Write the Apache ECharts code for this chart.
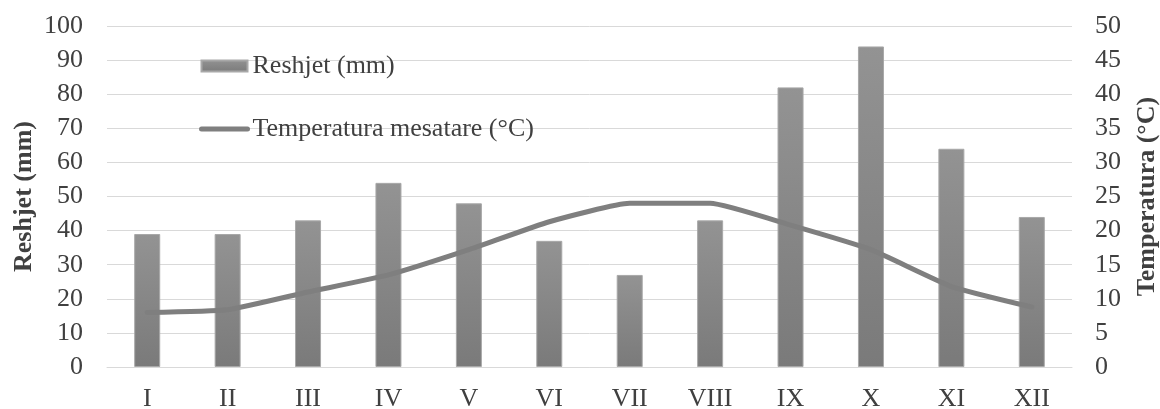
<!DOCTYPE html>
<html><head><meta charset="utf-8">
<script src="https://cdn.jsdelivr.net/npm/echarts@6/dist/echarts.min.js"></script>
<style>html,body{margin:0;padding:0;background:#fff}#c{width:1160px;height:409px}</style>
</head><body><div id="c"></div>
<script>
const months = ['I','II','III','IV','V','VI','VII','VIII','IX','X','XI','XII'];
const precipitation = [39, 39, 43, 54, 48, 37, 27, 43, 82, 94, 64, 44];
const temperature = [8.0, 8.4, 11.0, 13.5, 17.2, 21.3, 24.0, 24.0, 20.8, 17.2, 11.8, 8.8];
const precipName = 'Reshjet (mm)';
const tempName = 'Temperatura mesatare (°C)';

const font = 'Liberation Serif';
const txt = '#404040';
const fs = 26;
const chart = echarts.init(document.getElementById('c'));
chart.setOption({
  animation: false,
  backgroundColor: '#fff',
  textStyle: {fontFamily: font},
  grid: {left: 107, right: 88, top: 26, bottom: 42, containLabel: false, outerBoundsMode: 'none'},
  legend: {
    orient: 'vertical', left: 194, top: 48, itemGap: 37,
    itemWidth: 46, itemHeight: 11,
    textStyle: {fontFamily: font, fontSize: fs, color: txt, lineHeight: 26},
    data: [
      {name: precipName, icon: 'rect'},
      {name: tempName, itemStyle: {opacity: 0}, lineStyle: {width: 5, color: '#7f7f7f', cap: 'round'}}
    ]
  },
  xAxis: {
    type: 'category', data: months,
    axisLine: {lineStyle: {color: '#d9d9d9'}},
    axisTick: {show: false},
    axisLabel: {fontFamily: font, fontSize: fs, color: txt, margin: 19}
  },
  yAxis: [
    {
      type: 'value', min: 0, max: 100, interval: 10,
      name: 'Reshjet (mm)', nameLocation: 'middle', nameGap: 70, nameRotate: 90,
      nameMoveOverlap: false,
      nameTextStyle: {fontFamily: font, fontSize: fs, fontWeight: 'bold', color: txt},
      axisLabel: {fontFamily: font, fontSize: fs, color: txt, margin: 24},
      splitLine: {lineStyle: {color: '#d9d9d9'}},
      axisLine: {show: false}, axisTick: {show: false}
    },
    {
      type: 'value', min: 0, max: 50, interval: 5, position: 'right',
      name: 'Temperatura (°C)', nameLocation: 'middle', nameGap: 62, nameRotate: 90,
      nameTextStyle: {fontFamily: font, fontSize: fs, fontWeight: 'bold', color: txt},
      axisLabel: {fontFamily: font, fontSize: fs, color: txt, margin: 23},
      splitLine: {show: false},
      axisLine: {show: false}, axisTick: {show: false}
    }
  ],
  series: [
    {
      name: precipName, type: 'bar', data: precipitation, barWidth: 26,
      itemStyle: {
        color: new echarts.graphic.LinearGradient(0, 0, 0, 1, [
          {offset: 0, color: '#939393'}, {offset: 1, color: '#7a7a7a'}
        ]),
        borderColor: '#a8a8a8', borderWidth: 1
      }
    },
    {
      name: tempName, type: 'line', yAxisIndex: 1, data: temperature,
      symbol: 'none', smooth: 0.15,
      lineStyle: {color: '#7f7f7f', width: 5, cap: 'round'},
      itemStyle: {color: '#7f7f7f'}
    }
  ]
});
</script></body></html>
